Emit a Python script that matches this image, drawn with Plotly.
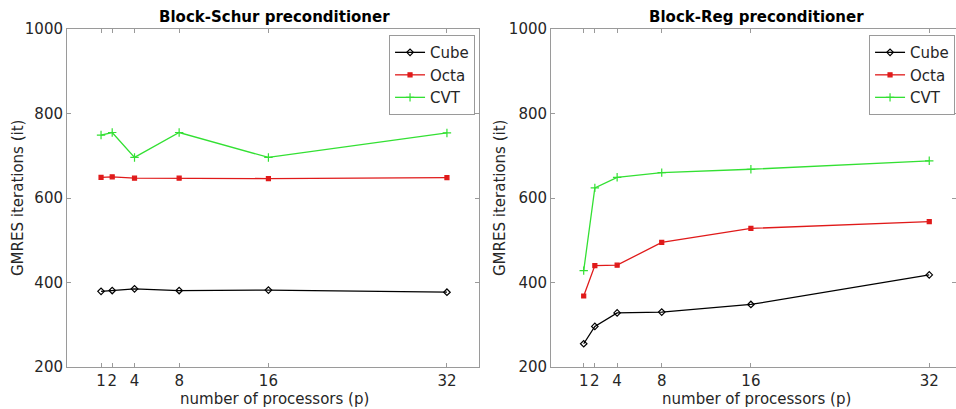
import plotly.graph_objects as go

procs = [1, 2, 4, 8, 16, 32]
x_ticks = [1, 2, 4, 8, 16, 32]
y_ticks = [200, 400, 600, 800, 1000]

schur_cube = [379, 381, 385, 381, 382, 377]
schur_octa = [649, 650, 647, 647, 646, 648]
schur_cvt = [749, 755, 696, 755, 696, 754]

reg_cube = [255, 296, 328, 330, 348, 418]
reg_octa = [368, 440, 441, 495, 528, 544]
reg_cvt = [428, 624, 649, 660, 668, 688]

series_names = ["Cube", "Octa", "CVT"]
colors = ["#000000", "#e01a1a", "#33e033"]
symbols = ["diamond-open", "square", "cross-thin-open"]
marker_sizes = [5, 4, 6]

font_family = "DejaVu Sans"
fig = go.Figure()

panels = [
    ("x", "y", "legend", [schur_cube, schur_octa, schur_cvt]),
    ("x2", "y2", "legend2", [reg_cube, reg_octa, reg_cvt]),
]
for xa, ya, lg, data in panels:
    for name, vals, c, s, ms in zip(series_names, data, colors, symbols, marker_sizes):
        fig.add_trace(go.Scatter(
            x=procs, y=vals, name=name, mode="lines+markers",
            line=dict(color=c, width=1.3),
            marker=dict(symbol=s, size=ms, color=c, line=dict(color=c, width=1.2)),
            xaxis=xa, yaxis=ya, legend=lg,
        ))

axis_common = dict(
    showline=True, linecolor="#9a9a9a", linewidth=1, mirror="ticks",
    ticks="inside", ticklen=4, tickcolor="#9a9a9a",
    showgrid=False, zeroline=False, tickangle=0, automargin=False,
    tickfont=dict(family=font_family, size=15, color="#262626"),
)

legend_common = dict(
    yanchor="top", xanchor="right",
    bordercolor="#9a9a9a", borderwidth=1, bgcolor="white",
    font=dict(size=15, color="#262626"), itemwidth=30,
    tracegroupgap=0,
)

W, H = 956, 409
label_font = dict(family=font_family, size=15, color="#262626")
title_font = dict(family=font_family, size=15, color="#000000")

annotations = [
    dict(text="<b>Block-Schur preconditioner</b>", x=0.2871, y=1, xref="paper", yref="paper",
         xanchor="center", yanchor="bottom", yshift=1, showarrow=False, font=title_font),
    dict(text="<b>Block-Reg preconditioner</b>", x=0.7913, y=1, xref="paper", yref="paper",
         xanchor="center", yanchor="bottom", yshift=1, showarrow=False, font=title_font),
]
for xc in (274 / W, 756 / W):
    annotations.append(dict(text="number of processors (p)", x=xc, y=-32 / 338,
                            xref="paper", yref="paper", xanchor="center", yanchor="middle",
                            showarrow=False, font=label_font))
for xc in (18 / W, 500 / W):
    annotations.append(dict(text="GMRES iterations (it)", x=xc, y=0.5, textangle=-90,
                            xref="paper", yref="paper", xanchor="center", yanchor="middle",
                            showarrow=False, font=label_font))

fig.update_layout(
    width=W, height=H,
    margin=dict(l=0, r=0, t=29, b=42),
    paper_bgcolor="white", plot_bgcolor="white",
    font=dict(family=font_family, color="#262626"),
    xaxis=dict(domain=[0.0701, 0.5010], range=[-2.05, 34.87],
               tickvals=x_ticks, ticktext=[str(v) for v in x_ticks], **axis_common),
    yaxis=dict(domain=[0, 1], range=[200, 1000], tickvals=y_ticks, **axis_common),
    xaxis2=dict(domain=[0.5764, 1.0], range=[-1.93, 34.4], anchor="y2",
                tickvals=x_ticks, ticktext=[str(v) for v in x_ticks], **axis_common),
    yaxis2=dict(domain=[0, 1], range=[200, 1000], tickvals=y_ticks, anchor="x2", **axis_common),
    legend=dict(x=0.4969, y=0.982, **legend_common),
    legend2=dict(x=0.999, y=0.982, **legend_common),
    showlegend=True,
    annotations=annotations,
)

fig.write_html(
    "out.html",
    config={"displayModeBar": False},
    post_script="document.body.style.margin='0';document.body.style.overflow='hidden';",
)
